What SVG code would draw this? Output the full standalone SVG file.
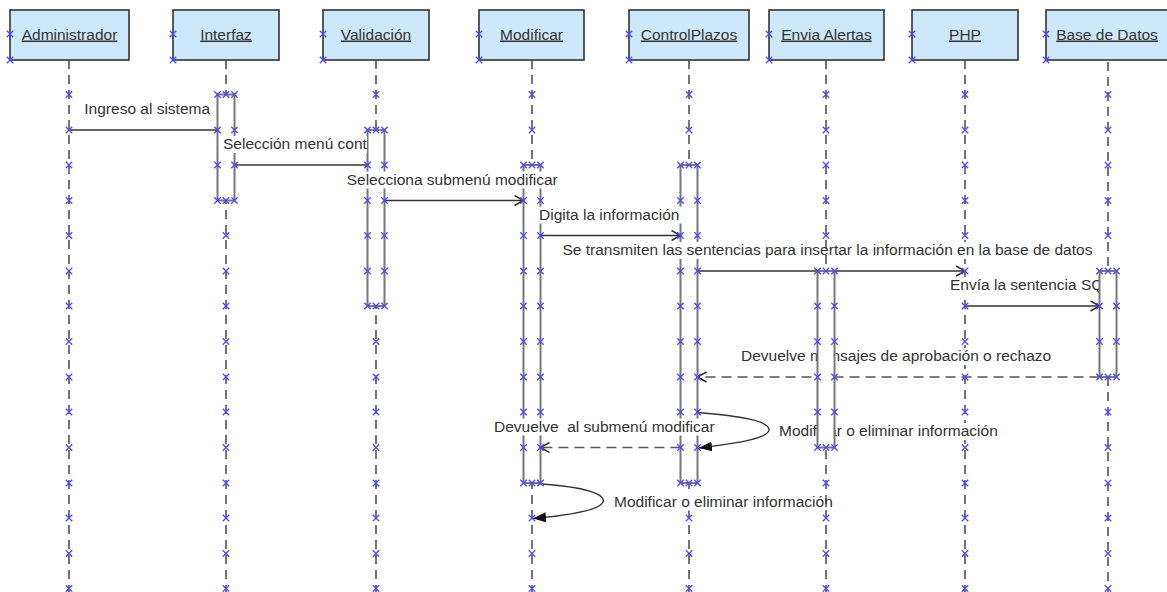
<svg xmlns="http://www.w3.org/2000/svg" xmlns:xlink="http://www.w3.org/1999/xlink" width="1167" height="592" viewBox="0 0 1167 592">
<style>
.hdr{fill:#cde8fa;stroke:#333;stroke-width:1.6}
.htx{font-family:"Liberation Sans",Arial,sans-serif;font-size:15.5px;fill:#333;text-decoration:underline;text-anchor:middle}
.life{stroke:#3a3a3a;stroke-width:1.4;stroke-dasharray:9 6;fill:none}
.act{fill:#fff;stroke:#777;stroke-width:2}
.msg{stroke:#333;stroke-width:1.4;fill:none}
.ret{stroke:#555;stroke-width:1.4;stroke-dasharray:10 6;fill:none}
.lbl{font-family:"Liberation Sans",Arial,sans-serif;font-size:15.5px;fill:#333;white-space:pre}
.bg{fill:#fff}
</style>
<defs>
<path id="x" d="M-3.2,-3.2L3.2,3.2M-3.2,3.2L3.2,-3.2" stroke="#4a4aff" stroke-width="1.3" fill="none"/>
<marker id="open" markerUnits="userSpaceOnUse" markerWidth="12" markerHeight="12" refX="10" refY="6" orient="auto">
<path d="M1,1 L10,6 L1,11" fill="none" stroke="#333" stroke-width="1.5"/>
</marker>
<marker id="fill" markerUnits="userSpaceOnUse" markerWidth="14" markerHeight="10" refX="13" refY="5" orient="auto">
<path d="M0,0 L13,5 L0,10 Z" fill="#111"/>
</marker>
</defs>
<rect width="1167" height="592" fill="#fff"/>

<g id="node-administrador">
<rect class="hdr" x="10" y="10" width="119" height="50"/>
<text class="htx" x="69.5" y="39.5">Administrador</text>
<line class="life" x1="69" y1="60" x2="69" y2="592"/>
</g>

<g id="node-interfaz">
<rect class="hdr" x="173" y="10" width="106" height="50"/>
<text class="htx" x="226" y="39.5">Interfaz</text>
<line class="life" x1="226" y1="60" x2="226" y2="592"/>
<rect class="act" x="217.5" y="94.5" width="17" height="106"/>
</g>

<g id="node-validacion">
<rect class="hdr" x="323" y="10" width="106" height="50"/>
<text class="htx" x="376" y="39.5">Validación</text>
<line class="life" x1="376" y1="60" x2="376" y2="592"/>
<rect class="act" x="367.5" y="130" width="17" height="176"/>
</g>

<g id="node-modificar">
<rect class="hdr" x="479" y="10" width="105" height="50"/>
<text class="htx" x="531.5" y="39.5">Modificar</text>
<line class="life" x1="532" y1="60" x2="532" y2="592"/>
<rect class="act" x="523.5" y="165" width="17" height="318"/>
</g>

<g id="node-controlplazos">
<rect class="hdr" x="629" y="10" width="120" height="50"/>
<text class="htx" x="689" y="39.5">ControlPlazos</text>
<line class="life" x1="689" y1="60" x2="689" y2="592"/>
<rect class="act" x="680.5" y="165" width="17" height="318"/>
</g>

<g id="node-php">
<rect class="hdr" x="912" y="10" width="106" height="50"/>
<text class="htx" x="965" y="39.5">PHP</text>
<line class="life" x1="965" y1="60" x2="965" y2="592"/>
</g>

<g id="connectors">
<line class="msg" x1="69" y1="130" x2="217.5" y2="130"/>
<line class="msg" x1="234.5" y1="165" x2="367.5" y2="165"/>
<line class="msg" x1="384.5" y1="200.5" x2="523.5" y2="200.5" marker-end="url(#open)"/>
<line class="msg" x1="540.5" y1="235.5" x2="680.5" y2="235.5" marker-end="url(#open)"/>
<line class="msg" x1="697.5" y1="271" x2="965" y2="271" marker-end="url(#open)"/>
<line class="msg" x1="965" y1="306" x2="1099.5" y2="306" marker-end="url(#open)"/>
<line class="ret" x1="1099.5" y1="377" x2="697.5" y2="377" marker-end="url(#open)"/>
<path class="msg" d="M697.5,412.5 C740,416 770,421 769,430 C768,438 740,443 699,448" marker-end="url(#fill)"/>
<line class="ret" x1="680.5" y1="447.5" x2="540.5" y2="447.5" marker-end="url(#open)"/>
<path class="msg" d="M540.5,484 C585,487 606,494 603,502 C600,510 572,515 533,518.5" marker-end="url(#fill)"/>

<rect class="bg" x="83" y="101" width="129" height="17"/>
<text class="lbl" x="84.3" y="114.3">Ingreso al sistema</text>
<rect class="bg" x="222" y="136" width="145" height="17"/>
<text class="lbl" x="223" y="149.3">Selección menú cont</text>
<rect class="bg" x="346" y="171.5" width="215" height="17"/>
<text class="lbl" x="346.7" y="184.5">Selecciona submenú modificar</text>
<rect class="bg" x="538" y="206.5" width="145" height="17"/>
<text class="lbl" x="539" y="219.5">Digita la información</text>
<rect class="bg" x="561" y="242" width="538" height="17"/>
<text class="lbl" x="562.5" y="255">Se transmiten las sentencias para insertar la información en la base de datos</text>
<rect class="bg" x="949" y="277" width="150" height="17"/>
<text class="lbl" x="950" y="290">Envía la sentencia SQ</text>
<rect class="bg" x="740" y="348" width="316" height="17"/>
<text class="lbl" x="741" y="361">Devuelve mensajes de aprobación o rechazo</text>
<rect class="bg" x="778" y="423" width="224" height="17"/>
<text class="lbl" x="779" y="436">Modificar o eliminar información</text>
<rect class="bg" x="493" y="418.5" width="226" height="17"/>
<text class="lbl" x="494" y="431.5">Devuelve  al submenú modificar</text>
<rect class="bg" x="613" y="493.5" width="223" height="17"/>
<text class="lbl" x="614" y="506.5">Modificar o eliminar información</text>
</g>

<g id="node-envia-alertas">
<rect class="hdr" x="769" y="10" width="115" height="50"/>
<text class="htx" x="826.5" y="39.5">Envia Alertas</text>
<line class="life" x1="826" y1="60" x2="826" y2="592"/>
<rect class="act" x="817.5" y="271" width="17" height="176.5"/>
</g>

<g id="node-base-de-datos">
<rect class="hdr" x="1046" y="10" width="124" height="50"/>
<text class="htx" x="1107" y="39.5">Base de Datos</text>
<line class="life" x1="1108" y1="62" x2="1108" y2="592"/>
<rect class="act" x="1099.5" y="271" width="17" height="106"/>
</g>

<g id="anchor-marks">
<use href="#x" x="10" y="34"/><use href="#x" x="10" y="60"/>
<use href="#x" x="173" y="34"/><use href="#x" x="173" y="60"/>
<use href="#x" x="323" y="34"/><use href="#x" x="323" y="60"/>
<use href="#x" x="479" y="34"/><use href="#x" x="479" y="60"/>
<use href="#x" x="629" y="34"/><use href="#x" x="629" y="60"/>
<use href="#x" x="769" y="34"/><use href="#x" x="769" y="60"/>
<use href="#x" x="912" y="34"/><use href="#x" x="912" y="60"/>
<use href="#x" x="1046" y="34"/><use href="#x" x="1046" y="60"/>

<use href="#x" x="69" y="94.5"/><use href="#x" x="69" y="130"/><use href="#x" x="69" y="165"/><use href="#x" x="69" y="200.5"/><use href="#x" x="69" y="235.5"/><use href="#x" x="69" y="271"/><use href="#x" x="69" y="306"/><use href="#x" x="69" y="341.5"/><use href="#x" x="69" y="377"/><use href="#x" x="69" y="412"/><use href="#x" x="69" y="447.5"/><use href="#x" x="69" y="483"/><use href="#x" x="69" y="518"/><use href="#x" x="69" y="553.5"/><use href="#x" x="69" y="588.5"/>

<use href="#x" x="217.5" y="94.5"/><use href="#x" x="226" y="94.5"/><use href="#x" x="234.5" y="94.5"/>
<use href="#x" x="217.5" y="130"/><use href="#x" x="234.5" y="130"/>
<use href="#x" x="217.5" y="165"/><use href="#x" x="234.5" y="165"/>
<use href="#x" x="217.5" y="200.5"/><use href="#x" x="226" y="200.5"/><use href="#x" x="234.5" y="200.5"/>
<use href="#x" x="226" y="235.5"/><use href="#x" x="226" y="271"/><use href="#x" x="226" y="306"/><use href="#x" x="226" y="341.5"/><use href="#x" x="226" y="377"/><use href="#x" x="226" y="412"/><use href="#x" x="226" y="447.5"/><use href="#x" x="226" y="483"/><use href="#x" x="226" y="518"/><use href="#x" x="226" y="553.5"/><use href="#x" x="226" y="588.5"/>

<use href="#x" x="376" y="94.5"/>
<use href="#x" x="367.5" y="130"/><use href="#x" x="376" y="130"/><use href="#x" x="384.5" y="130"/>
<use href="#x" x="367.5" y="165"/><use href="#x" x="384.5" y="165"/>
<use href="#x" x="367.5" y="200.5"/><use href="#x" x="384.5" y="200.5"/>
<use href="#x" x="367.5" y="235.5"/><use href="#x" x="384.5" y="235.5"/>
<use href="#x" x="367.5" y="271"/><use href="#x" x="384.5" y="271"/>
<use href="#x" x="367.5" y="306"/><use href="#x" x="376" y="306"/><use href="#x" x="384.5" y="306"/>
<use href="#x" x="376" y="341.5"/><use href="#x" x="376" y="377"/><use href="#x" x="376" y="412"/><use href="#x" x="376" y="447.5"/><use href="#x" x="376" y="483"/><use href="#x" x="376" y="518"/><use href="#x" x="376" y="553.5"/><use href="#x" x="376" y="588.5"/>

<use href="#x" x="532" y="94.5"/><use href="#x" x="532" y="130"/>
<use href="#x" x="523.5" y="165"/><use href="#x" x="532" y="165"/><use href="#x" x="540.5" y="165"/>
<use href="#x" x="523.5" y="200.5"/><use href="#x" x="540.5" y="200.5"/>
<use href="#x" x="523.5" y="235.5"/><use href="#x" x="540.5" y="235.5"/>
<use href="#x" x="523.5" y="271"/><use href="#x" x="540.5" y="271"/>
<use href="#x" x="523.5" y="306"/><use href="#x" x="540.5" y="306"/>
<use href="#x" x="523.5" y="341.5"/><use href="#x" x="540.5" y="341.5"/>
<use href="#x" x="523.5" y="377"/><use href="#x" x="540.5" y="377"/>
<use href="#x" x="523.5" y="412"/><use href="#x" x="540.5" y="412"/>
<use href="#x" x="523.5" y="447.5"/><use href="#x" x="540.5" y="447.5"/>
<use href="#x" x="523.5" y="483"/><use href="#x" x="532" y="483"/><use href="#x" x="540.5" y="483"/>
<use href="#x" x="532" y="518"/><use href="#x" x="532" y="553.5"/><use href="#x" x="532" y="588.5"/>

<use href="#x" x="689" y="94.5"/><use href="#x" x="689" y="130"/>
<use href="#x" x="680.5" y="165"/><use href="#x" x="689" y="165"/><use href="#x" x="697.5" y="165"/>
<use href="#x" x="680.5" y="200.5"/><use href="#x" x="697.5" y="200.5"/>
<use href="#x" x="680.5" y="235.5"/><use href="#x" x="697.5" y="235.5"/>
<use href="#x" x="680.5" y="271"/><use href="#x" x="697.5" y="271"/>
<use href="#x" x="680.5" y="306"/><use href="#x" x="697.5" y="306"/>
<use href="#x" x="680.5" y="341.5"/><use href="#x" x="697.5" y="341.5"/>
<use href="#x" x="680.5" y="377"/><use href="#x" x="697.5" y="377"/>
<use href="#x" x="680.5" y="412"/><use href="#x" x="697.5" y="412"/>
<use href="#x" x="680.5" y="447.5"/><use href="#x" x="697.5" y="447.5"/>
<use href="#x" x="680.5" y="483"/><use href="#x" x="689" y="483"/><use href="#x" x="697.5" y="483"/>
<use href="#x" x="689" y="518"/><use href="#x" x="689" y="553.5"/><use href="#x" x="689" y="588.5"/>

<use href="#x" x="826" y="94.5"/><use href="#x" x="826" y="130"/><use href="#x" x="826" y="165"/><use href="#x" x="826" y="200.5"/><use href="#x" x="826" y="235.5"/>
<use href="#x" x="817.5" y="271"/><use href="#x" x="826" y="271"/><use href="#x" x="834.5" y="271"/>
<use href="#x" x="817.5" y="306"/><use href="#x" x="834.5" y="306"/>
<use href="#x" x="817.5" y="341.5"/><use href="#x" x="834.5" y="341.5"/>
<use href="#x" x="817.5" y="377"/><use href="#x" x="834.5" y="377"/>
<use href="#x" x="817.5" y="412"/><use href="#x" x="834.5" y="412"/>
<use href="#x" x="817.5" y="447.5"/><use href="#x" x="826" y="447.5"/><use href="#x" x="834.5" y="447.5"/>
<use href="#x" x="826" y="483"/><use href="#x" x="826" y="518"/><use href="#x" x="826" y="553.5"/><use href="#x" x="826" y="588.5"/>

<use href="#x" x="965" y="94.5"/><use href="#x" x="965" y="130"/><use href="#x" x="965" y="165"/><use href="#x" x="965" y="200.5"/><use href="#x" x="965" y="235.5"/><use href="#x" x="965" y="271"/><use href="#x" x="965" y="306"/><use href="#x" x="965" y="341.5"/><use href="#x" x="965" y="377"/><use href="#x" x="965" y="412"/><use href="#x" x="965" y="447.5"/><use href="#x" x="965" y="483"/><use href="#x" x="965" y="518"/><use href="#x" x="965" y="553.5"/><use href="#x" x="965" y="588.5"/>

<use href="#x" x="1108" y="94.5"/><use href="#x" x="1108" y="130"/><use href="#x" x="1108" y="165"/><use href="#x" x="1108" y="200.5"/><use href="#x" x="1108" y="235.5"/>
<use href="#x" x="1099.5" y="271"/><use href="#x" x="1108" y="271"/><use href="#x" x="1116.5" y="271"/>
<use href="#x" x="1099.5" y="306"/><use href="#x" x="1116.5" y="306"/>
<use href="#x" x="1099.5" y="341.5"/><use href="#x" x="1116.5" y="341.5"/>
<use href="#x" x="1099.5" y="377"/><use href="#x" x="1108" y="377"/><use href="#x" x="1116.5" y="377"/>
<use href="#x" x="1108" y="412"/><use href="#x" x="1108" y="447.5"/><use href="#x" x="1108" y="483"/><use href="#x" x="1108" y="518"/><use href="#x" x="1108" y="553.5"/><use href="#x" x="1108" y="588.5"/>
</g>
</svg>
